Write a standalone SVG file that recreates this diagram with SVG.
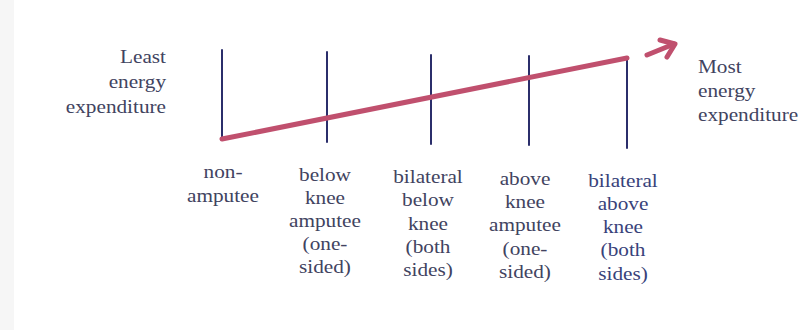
<svg xmlns="http://www.w3.org/2000/svg" width="808" height="330" viewBox="0 0 808 330">
  <style>
    .bg { fill: #ffffff; }
    .tick { stroke: #2b2e6b; stroke-width: 2; fill: none; stroke-linecap: round; }
    .lbl { fill: #414360; font-family: "Liberation Serif", "Times New Roman", serif; font-size: 18px; }
    .lbl2 { fill: #38427a; font-family: "Liberation Serif", "Times New Roman", serif; font-size: 18px; }
    .trend { stroke: #c0506e; stroke-width: 5; fill: none; stroke-linecap: round; stroke-linejoin: round; }
  </style>
  <rect class="bg" x="0" y="0" width="808" height="330"/>
  <rect x="0" y="0" width="14" height="330" fill="#f6f6f6"/>

  <g id="least-label" class="lbl" text-anchor="end">
    <text transform="translate(166,63) scale(1.18,1)">Least</text>
    <text transform="translate(166,88) scale(1.18,1)">energy</text>
    <text transform="translate(166,113) scale(1.18,1)">expenditure</text>
  </g>

  <g id="most-label" class="lbl" text-anchor="start">
    <text transform="translate(698,73) scale(1.18,1)">Most</text>
    <text transform="translate(698,97) scale(1.18,1)">energy</text>
    <text transform="translate(698,121) scale(1.18,1)">expenditure</text>
  </g>

  <g id="non-amputee">
    <line class="tick" x1="222" y1="50" x2="222" y2="140"/>
    <g class="lbl" text-anchor="middle">
      <text transform="translate(223,178) scale(1.18,1)">non-</text>
      <text transform="translate(223,202) scale(1.18,1)">amputee</text>
    </g>
  </g>

  <g id="below-knee">
    <line class="tick" x1="327" y1="52" x2="327" y2="142"/>
    <g class="lbl" text-anchor="middle">
      <text transform="translate(325,181) scale(1.18,1)">below</text>
      <text transform="translate(325,204) scale(1.18,1)">knee</text>
      <text transform="translate(325,227) scale(1.18,1)">amputee</text>
      <text transform="translate(325,250) scale(1.18,1)">(one-</text>
      <text transform="translate(325,273) scale(1.18,1)">sided)</text>
    </g>
  </g>

  <g id="bilateral-below-knee">
    <line class="tick" x1="431" y1="55" x2="431" y2="144"/>
    <g class="lbl" text-anchor="middle">
      <text transform="translate(428,183) scale(1.18,1)">bilateral</text>
      <text transform="translate(428,206) scale(1.18,1)">below</text>
      <text transform="translate(428,230) scale(1.18,1)">knee</text>
      <text transform="translate(428,253) scale(1.18,1)">(both</text>
      <text transform="translate(428,276) scale(1.18,1)">sides)</text>
    </g>
  </g>

  <g id="above-knee">
    <line class="tick" x1="529" y1="56" x2="529" y2="145"/>
    <g class="lbl" text-anchor="middle">
      <text transform="translate(525,185) scale(1.18,1)">above</text>
      <text transform="translate(525,208) scale(1.18,1)">knee</text>
      <text transform="translate(525,231) scale(1.18,1)">amputee</text>
      <text transform="translate(525,255) scale(1.18,1)">(one-</text>
      <text transform="translate(525,278) scale(1.18,1)">sided)</text>
    </g>
  </g>

  <g id="bilateral-above-knee">
    <line class="tick" x1="627" y1="58" x2="627" y2="148"/>
    <g class="lbl2" text-anchor="middle">
      <text transform="translate(623,187) scale(1.18,1)">bilateral</text>
      <text transform="translate(623,210) scale(1.18,1)">above</text>
      <text transform="translate(623,233) scale(1.18,1)">knee</text>
      <text transform="translate(623,256) scale(1.18,1)">(both</text>
      <text transform="translate(623,280) scale(1.18,1)">sides)</text>
    </g>
  </g>

  <g id="connectors">
    <polyline class="trend" points="222,139 627,58"/>
    <line class="trend" x1="647" y1="55" x2="674" y2="44"/>
    <polyline class="trend" points="660,40 675,44 667,57"/>
  </g>
</svg>
